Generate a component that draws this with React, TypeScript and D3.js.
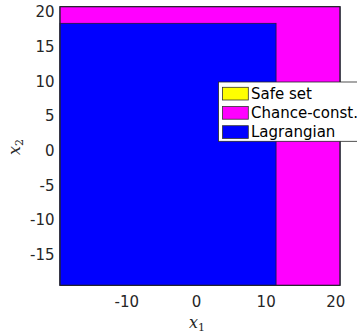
import React from "react";
import * as d3 from "d3";

// Region bounds [x1 min, x1 max] and [x2 min, x2 max]; drawn in order (later on top)
const regionNames = ["Safe set", "Chance-const.", "Lagrangian"];
const regionX: [number, number][] = [
  [-19.6, 20.6],
  [-19.6, 20.6],
  [-19.6, 11.42],
];
const regionY: [number, number][] = [
  [-19.45, 20.75],
  [-19.45, 20.75],
  [-19.45, 18.35],
];
const regionColors = ["#ffff00", "#ff00ff", "#0000ff"];

const xTicks = [-10, 0, 10, 20];
const yTicks = [-15, -10, -5, 0, 5, 10, 15, 20];

const W = 357;
const H = 335;
const plot = { left: 60, right: 340, top: 6.7, bottom: 285.3 };

export default function App() {
  const x = d3.scaleLinear().domain([-19.6, 20.6]).range([plot.left, plot.right]);
  const y = d3.scaleLinear().domain([-19.45, 20.75]).range([plot.bottom, plot.top]);
  const tickColor = "#262626";
  const font = "'DejaVu Sans', sans-serif";

  return (
    <svg
      width={W}
      height={H}
      style={{ position: "absolute", left: 0, top: 0, background: "#fff" }}
    >
      {regionNames.map((name, i) => {
        const [x0, x1] = regionX[i];
        const [y0, y1] = regionY[i];
        return (
          <rect
            key={name}
            x={x(x0)}
            y={y(y1)}
            width={x(x1) - x(x0)}
            height={y(y0) - y(y1)}
            fill={regionColors[i]}
            stroke="#1a1a40"
            strokeWidth={0.8}
          />
        );
      })}
      <rect
        x={plot.left}
        y={plot.top}
        width={plot.right - plot.left}
        height={plot.bottom - plot.top}
        fill="none"
        stroke={tickColor}
        strokeWidth={1}
      />
      {xTicks.map((t) => (
        <text
          key={"x" + t}
          x={x(t)}
          y={307}
          textAnchor="middle"
          fontFamily={font}
          fontSize={15}
          fill={tickColor}
        >
          {t}
        </text>
      ))}
      {yTicks.map((t) => (
        <text
          key={"y" + t}
          x={54.5}
          y={y(t)}
          dy="0.36em"
          textAnchor="end"
          fontFamily={font}
          fontSize={15}
          fill={tickColor}
        >
          {t}
        </text>
      ))}
      <text
        x={197}
        y={328}
        textAnchor="middle"
        fontFamily="'DejaVu Serif', serif"
        fontStyle="italic"
        fontSize={16}
        fill={tickColor}
      >
        x<tspan fontStyle="normal" fontSize={11} dy={3}>1</tspan>
      </text>
      <text
        transform={`translate(20,147) rotate(-90)`}
        textAnchor="middle"
        fontFamily="'DejaVu Serif', serif"
        fontStyle="italic"
        fontSize={16}
        fill={tickColor}
      >
        x<tspan fontStyle="normal" fontSize={11} dy={3}>2</tspan>
      </text>
      <g>
        <rect
          x={218.5}
          y={82}
          width={160}
          height={59.3}
          fill="#fff"
          stroke={tickColor}
          strokeWidth={0.8}
        />
        {regionNames.map((name, i) => (
          <g key={"lg" + name}>
            <rect
              x={222.5}
              y={87.3 + i * 19.2}
              width={25.8}
              height={12.7}
              fill={regionColors[i]}
              stroke="#333"
              strokeWidth={0.8}
            />
            <text
              x={251}
              y={93.6 + i * 19.2}
              dy="0.36em"
              fontFamily={font}
              fontSize={15}
              fill="#000"
            >
              {name}
            </text>
          </g>
        ))}
      </g>
    </svg>
  );
}
